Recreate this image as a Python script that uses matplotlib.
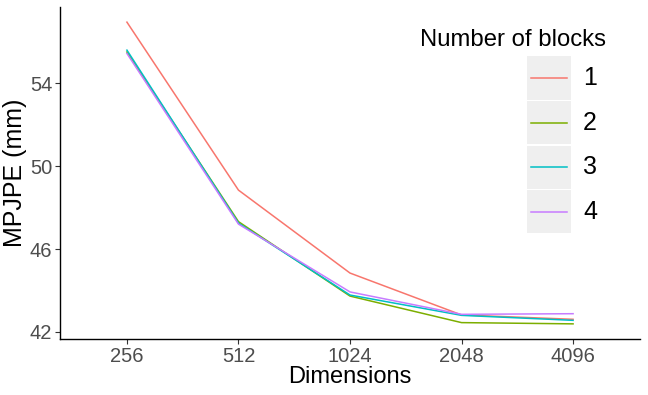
import matplotlib
matplotlib.use("Agg")
import matplotlib.pyplot as plt
from matplotlib.patches import Rectangle
from matplotlib.lines import Line2D

plt.rcParams['font.family'] = ['Liberation Sans', 'DejaVu Sans']

dims = ['256', '512', '1024', '2048', '4096']
blocks = ['1', '2', '3', '4']
mpjpe_1 = [56.94, 48.84, 44.84, 42.82, 42.61]
mpjpe_2 = [55.50, 47.32, 43.73, 42.45, 42.39]
mpjpe_3 = [55.59, 47.25, 43.78, 42.80, 42.56]
mpjpe_4 = [55.43, 47.20, 43.93, 42.85, 42.88]
colors = ['#F8766D', '#7CAE00', '#00BFC4', '#C77CFF']

W, H = 648, 395
fig = plt.figure(figsize=(W / 100, H / 100), dpi=100)
ax = fig.add_axes([60 / W, 1 - 339 / H, 580 / W, 332 / H])

x = list(range(len(dims)))
for vals, c in zip([mpjpe_1, mpjpe_2, mpjpe_3, mpjpe_4], colors):
    ax.plot(x, vals, color=c, lw=1.1)

ax.set_xlim(-0.6, len(dims) - 0.4)
ax.set_ylim(41.66, 57.67)
ax.set_xticks(x)
ax.set_xticklabels(dims)
ax.set_yticks([42, 46, 50, 54])
ax.tick_params(labelsize=14.5, labelcolor='#4D4D4D', color='#333333', length=3.5, width=0.8, pad=2)
for s in ['top', 'right']:
    ax.spines[s].set_visible(False)
for s in ['left', 'bottom']:
    ax.spines[s].set_linewidth(1.0)
ax.set_xlabel('Dimensions', fontsize=17, labelpad=0)
ax.set_ylabel('MPJPE (mm)', fontsize=18, labelpad=2)

# legend drawn as ggplot-style key boxes
fig.text(420 / W, 1 - 46 / H, 'Number of blocks', fontsize=17.2, ha='left', va='baseline')
key_top, key_h = 56, 44.5
for i, (lab, c) in enumerate(zip(blocks, colors)):
    y0 = key_top + i * key_h
    fig.add_artist(Rectangle((527 / W, 1 - (y0 + key_h - 1) / H), 44 / W, (key_h - 1.5) / H,
                             transform=fig.transFigure, facecolor='#EFEFEF', edgecolor='none'))
    yc = 1 - (y0 + key_h / 2) / H
    fig.add_artist(Line2D([531 / W, 567 / W], [yc, yc], transform=fig.transFigure, color=c, lw=1.1))
    fig.text(583 / W, yc, lab, fontsize=18, ha='left', va='center')

fig.savefig('out.png', dpi=100)
